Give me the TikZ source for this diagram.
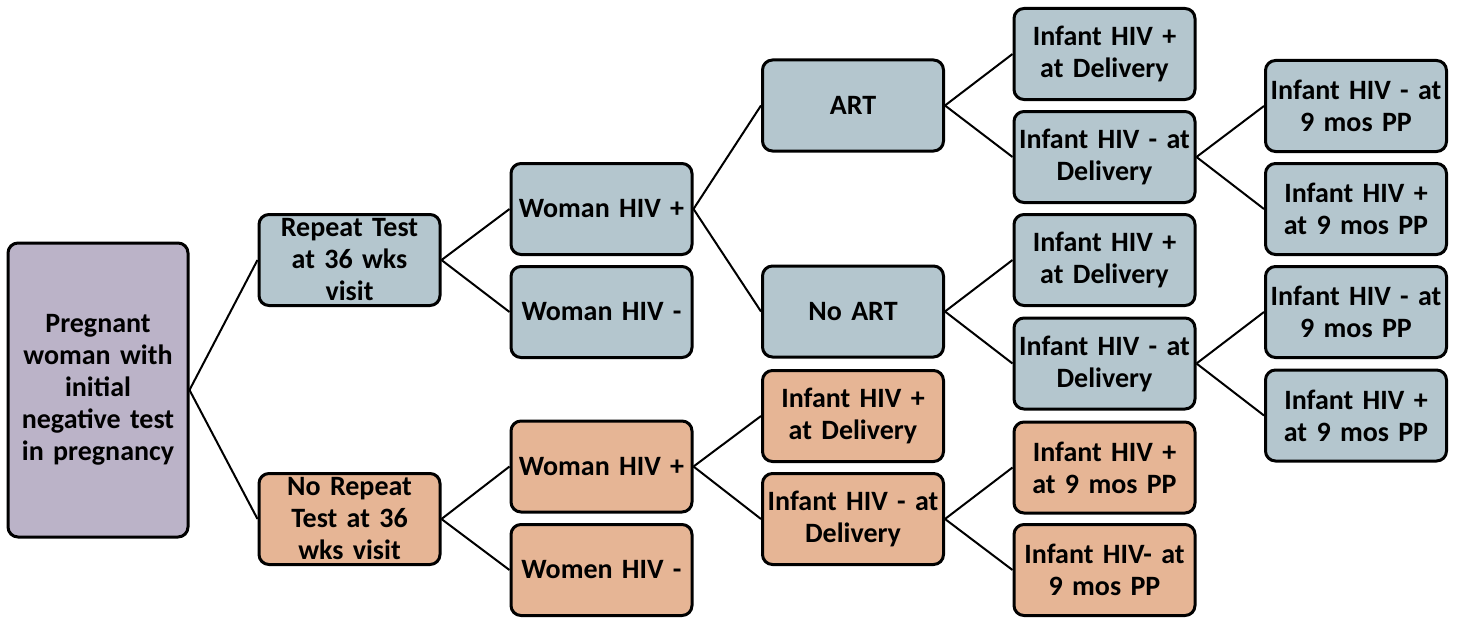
\documentclass[tikz,border=0pt]{standalone}
\usepackage{fontspec}
\setmainfont{Carlito}
\definecolor{bluegray}{RGB}{180,198,206}
\definecolor{orangebox}{RGB}{230,181,149}
\definecolor{purplebox}{RGB}{187,179,200}
\begin{document}
\begin{tikzpicture}[x=1pt,y=-1pt,
  box/.style={draw=black, line width=3pt, rounded corners=10pt, inner sep=0pt,
    minimum width=181pt, minimum height=91pt, text width=178pt, align=center,
    font=\fontsize{28}{32}\selectfont\bfseries},
  bb/.style={box, fill=bluegray},
  ob/.style={box, fill=orangebox},
  link/.style={line width=2pt}]
\useasboundingbox (0,0) rectangle (1465,618);
\node[box, fill=purplebox, minimum width=180pt, minimum height=294pt] (root) at (98,390) {Pregnant\\woman with\\initial\\negative test\\in pregnancy};
\node[bb] (rep) at (349.5,260) {Repeat Test\\at 36 wks\\visit};
\node[ob] (norep) at (349.5,519) {No Repeat\\Test at 36\\wks visit};
\node[bb] (wp) at (601.5,209) {Woman HIV +};
\node[bb] (wm) at (601.5,312) {Woman HIV -};
\node[bb] (art) at (853,105.5) {ART};
\node[bb] (noart) at (853,311.5) {No ART};
\node[bb] (a1) at (1104.5,54) {Infant HIV +\\at Delivery};
\node[bb] (a2) at (1104.5,157) {Infant HIV - at\\Delivery};
\node[bb] (n1) at (1104.5,260) {Infant HIV +\\at Delivery};
\node[bb] (n2) at (1104.5,363.5) {Infant HIV - at\\Delivery};
\node[bb] (a21) at (1356,106) {Infant HIV - at\\9 mos PP};
\node[bb] (a22) at (1356,209) {Infant HIV +\\at 9 mos PP};
\node[bb] (n21) at (1356,312) {Infant HIV - at\\9 mos PP};
\node[bb] (n22) at (1356,415.5) {Infant HIV +\\at 9 mos PP};
\node[ob] (owp) at (601.5,466.5) {Woman HIV +};
\node[ob] (owm) at (601.5,570) {Women HIV -};
\node[ob] (o1) at (853,416) {Infant HIV +\\at Delivery};
\node[ob] (o2) at (853,519) {Infant HIV - at\\Delivery};
\node[ob] (o21) at (1104.5,467.5) {Infant HIV +\\at 9 mos PP};
\node[ob] (o22) at (1104.5,570) {Infant HIV- at\\9 mos PP};
\foreach \p/\c in {root/rep, root/norep, rep/wp, rep/wm, wp/art, wp/noart,
  art/a1, art/a2, noart/n1, noart/n2, a2/a21, a2/a22, n2/n21, n2/n22,
  norep/owp, norep/owm, owp/o1, owp/o2, o2/o21, o2/o22}
  \draw[link] (\p.east) -- (\c.west);
\end{tikzpicture}
\end{document}
